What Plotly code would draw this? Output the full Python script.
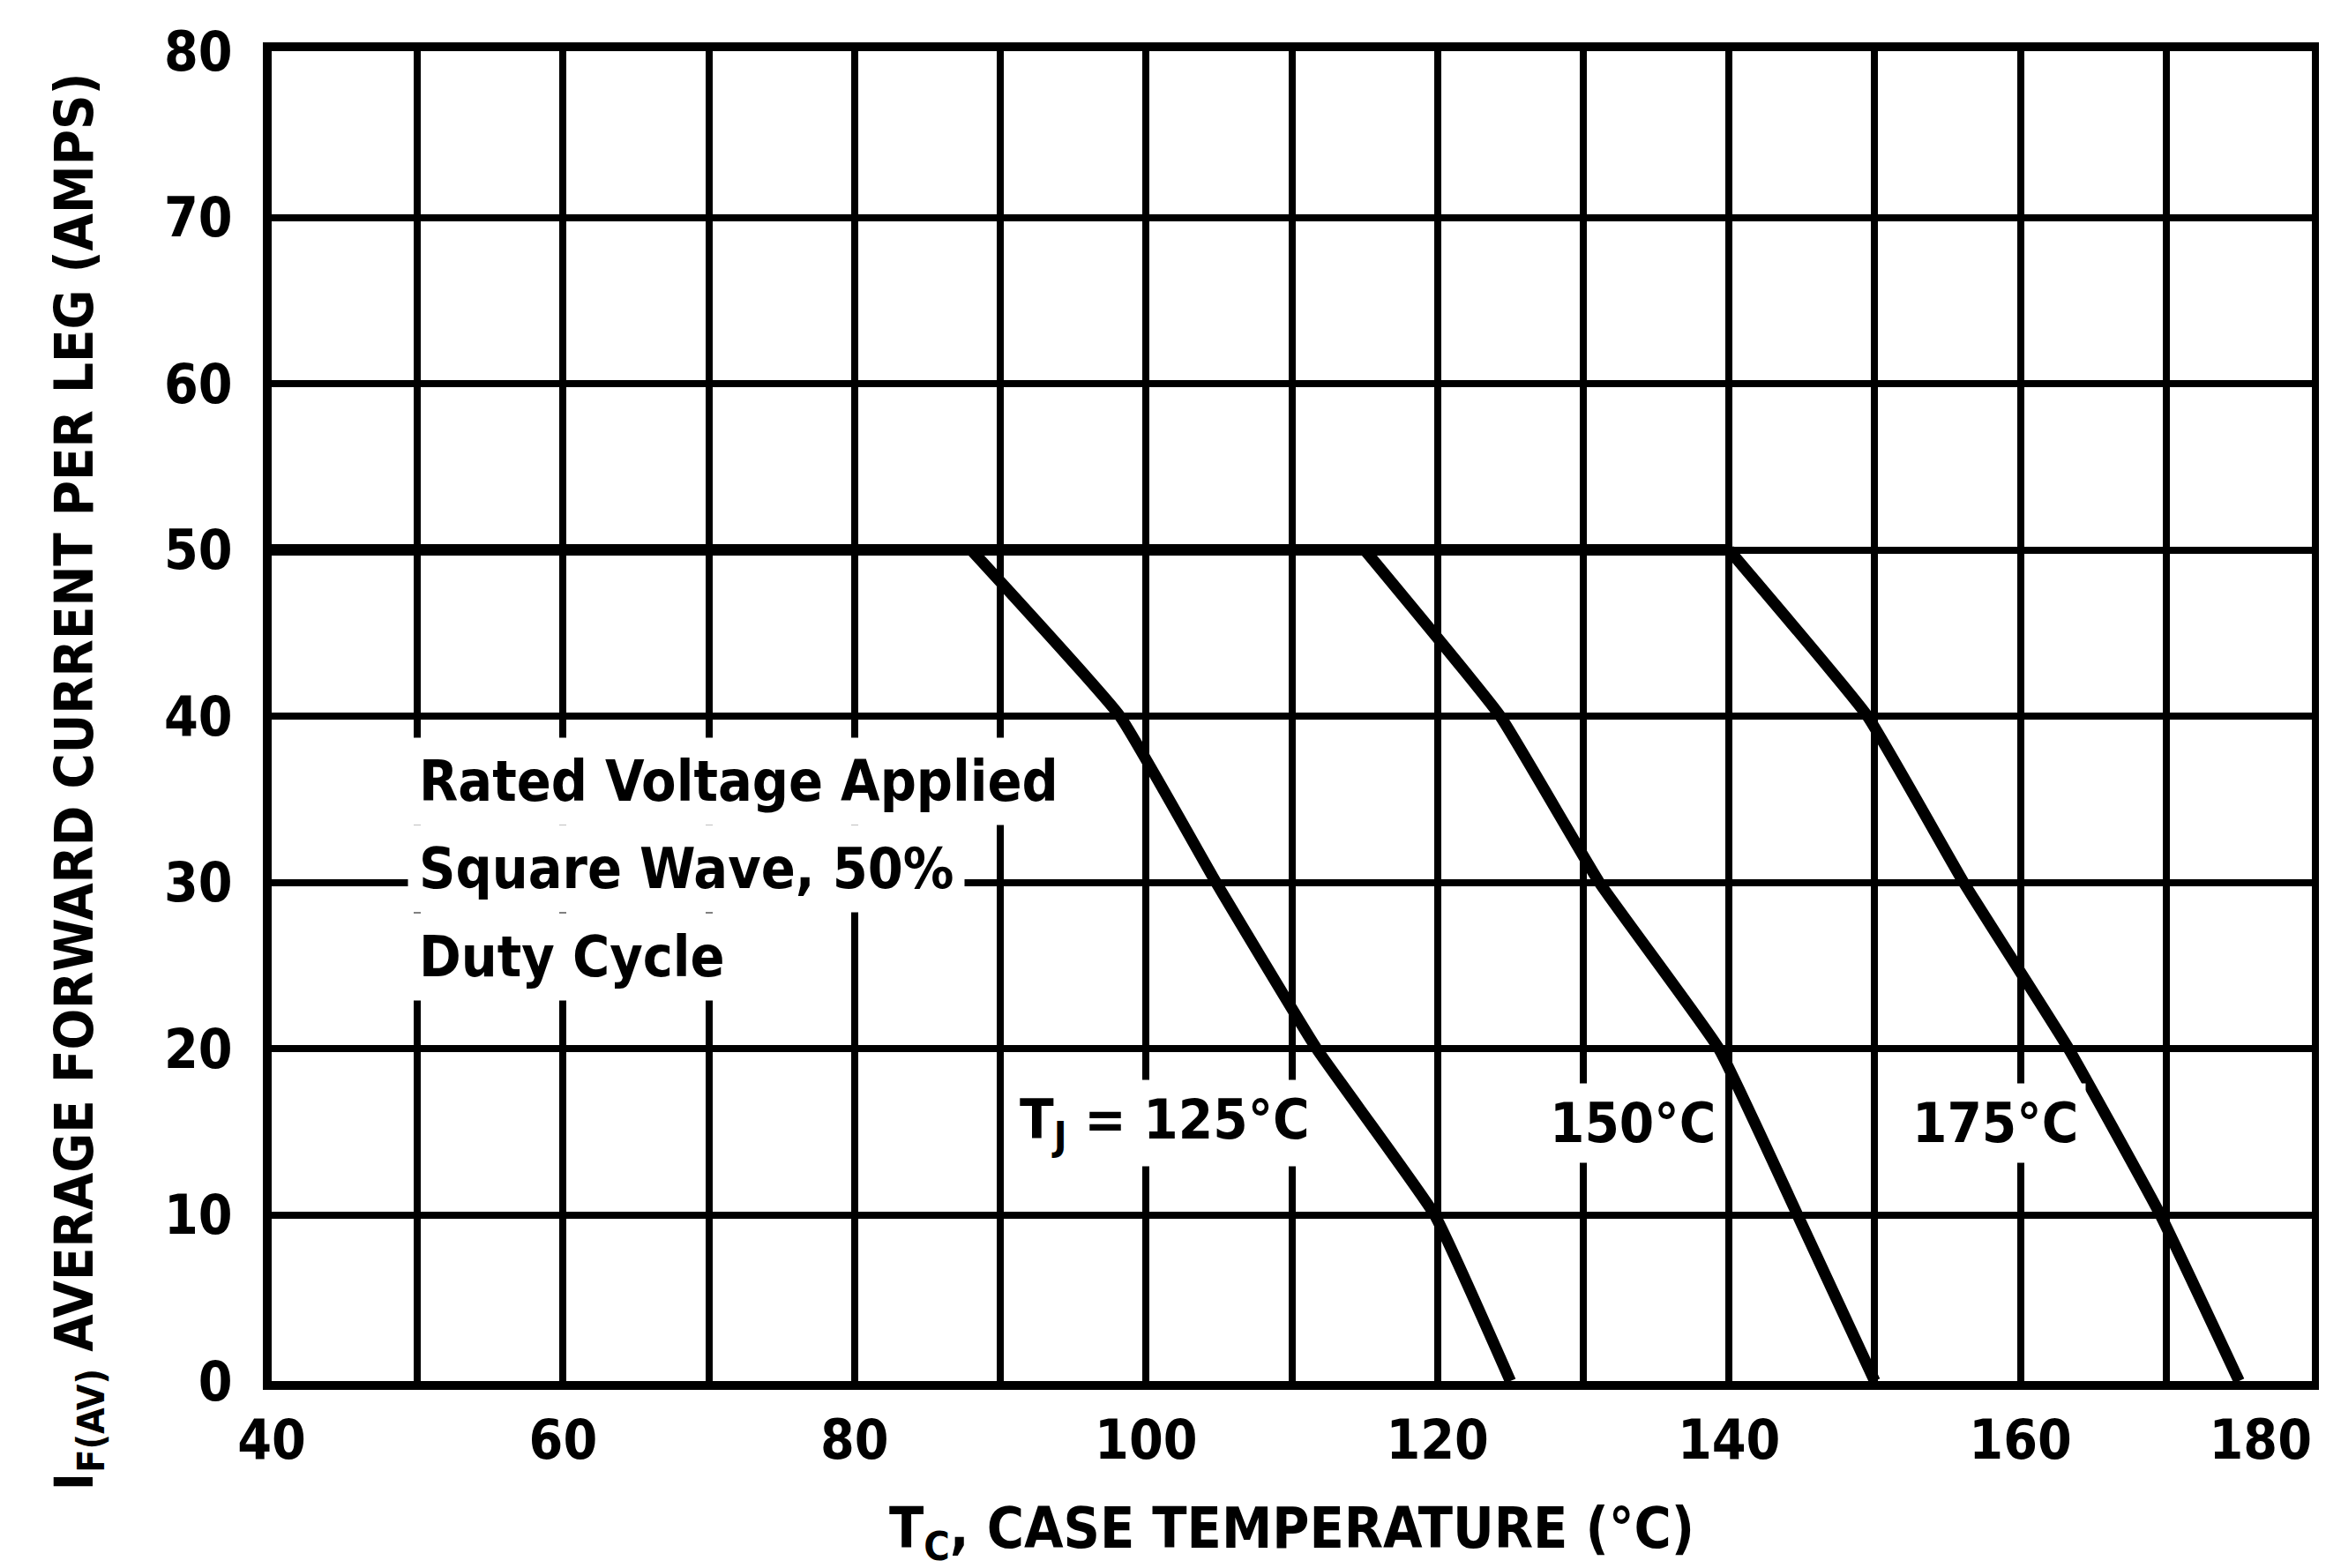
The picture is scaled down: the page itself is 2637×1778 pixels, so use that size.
import plotly.graph_objects as go

# ---- data ----
x_tick_vals = [40, 60, 80, 100, 120, 140, 160]
x_tick_text = ["40", "60", "80", "100", "120", "140", "160"]
x_end_tick_vals = [180]          # last label sits left of its tick in the reference
x_end_tick_text = ["180"]
x_minor_vals = [50, 70, 90, 110, 130, 150, 170]
y_tick_vals = [0, 10, 20, 30, 40, 50, 60, 70, 80]
y_tick_text = ["0", "10", "20", "30", "40", "50", "60", "70", "80"]

tc_125 = [40, 88, 98.2, 104.8, 111.7, 119.8, 125]
i_125 = [50, 50, 40, 30, 20, 10, 0]
tc_150 = [40, 115, 124.3, 131.1, 139.3, 144.7, 150]
i_150 = [50, 50, 40, 30, 20, 10, 0]
tc_175 = [40, 140, 149.5, 156.1, 163.3, 169.6, 175]
i_175 = [50, 50, 40, 30, 20, 10, 0]

curve_labels = ["T<sub>J</sub> = 125°C", "150°C", "175°C"]
label_x = [101.3, 133.4, 158.3]
label_y = [15.5, 15.5, 15.5]

note_lines = ["Rated Voltage Applied", "Square Wave, 50%", "Duty Cycle"]
note_y = [36.1, 30.8, 25.5]
note_x = 49.3

x_title = "T<sub>C</sub>, CASE TEMPERATURE (°C)"
y_title = "I<sub>F(AV)</sub> AVERAGE FORWARD CURRENT PER LEG (AMPS)"

FONT = "DejaVu Sans Condensed, Liberation Sans Narrow, Arial Narrow, sans-serif"

fig = go.Figure()
for xs, ys in [(tc_125, i_125), (tc_150, i_150), (tc_175, i_175)]:
    fig.add_trace(go.Scatter(x=xs[:2], y=ys[:2], mode="lines",
                             line=dict(color="black", width=13),
                             showlegend=False, hoverinfo="skip"))
    fig.add_trace(go.Scatter(x=xs[1:], y=ys[1:], mode="lines",
                             line=dict(color="black", width=13, shape="spline", smoothing=0.35),
                             showlegend=False, hoverinfo="skip"))

# invisible trace so the overlay axis carrying the end label is drawn
fig.add_trace(go.Scatter(x=x_end_tick_vals, y=[0], xaxis="x2", mode="markers",
                         marker=dict(opacity=0), showlegend=False, hoverinfo="skip"))

for txt, lx, ly in zip(curve_labels, label_x, label_y):
    fig.add_annotation(x=lx, y=ly, text="<b>" + txt + "</b>", showarrow=False,
                       font=dict(family=FONT, size=63, color="black"),
                       bgcolor="white", borderpad=8)

for s, ny in zip(note_lines, note_y):
    fig.add_annotation(x=note_x, y=ny, xanchor="left", yanchor="middle", align="left",
                       text="<b>" + s + "</b>", showarrow=False,
                       bgcolor="white", borderpad=12,
                       font=dict(family=FONT, size=64, color="black"))

fig.add_annotation(xref="paper", yref="paper", x=-0.095, y=0.451, textangle=-90,
                   text="<b>" + y_title + "</b>", showarrow=False,
                   xanchor="center", yanchor="middle",
                   font=dict(family=FONT, size=61, color="black"))

grid = dict(showgrid=True, gridcolor="black", gridwidth=8)
tickfont = dict(family=FONT, size=62, color="black", weight="bold")
axis_common = dict(showline=True, linecolor="black", linewidth=10, mirror=True,
                   zeroline=False, ticks="", automargin=False, tickfont=tickfont, **grid)

fig.update_layout(
    xaxis=dict(range=[40, 180], tickvals=x_tick_vals, ticktext=x_tick_text,
               minor=dict(tickvals=x_minor_vals, **grid),
               ticklabelstandoff=4,
               title=dict(text="<b>" + x_title + "</b>",
                          font=dict(family=FONT, size=64, color="black"), standoff=46),
               **axis_common),
    xaxis2=dict(overlaying="x", side="bottom", range=[40, 180], matches="x",
                tickvals=x_end_tick_vals, ticktext=x_end_tick_text,
                ticklabelposition="outside left", ticklabelstandoff=25,
                showgrid=False, showline=False, zeroline=False, ticks="",
                automargin=False, tickfont=tickfont),
    yaxis=dict(range=[0, 80], tickvals=y_tick_vals, ticktext=y_tick_text,
               ticklabelstandoff=22, **axis_common),
    width=2637, height=1778, paper_bgcolor="white", plot_bgcolor="white",
    margin=dict(l=300, r=24, t=50, b=220),
)

fig.write_html("out.html")
